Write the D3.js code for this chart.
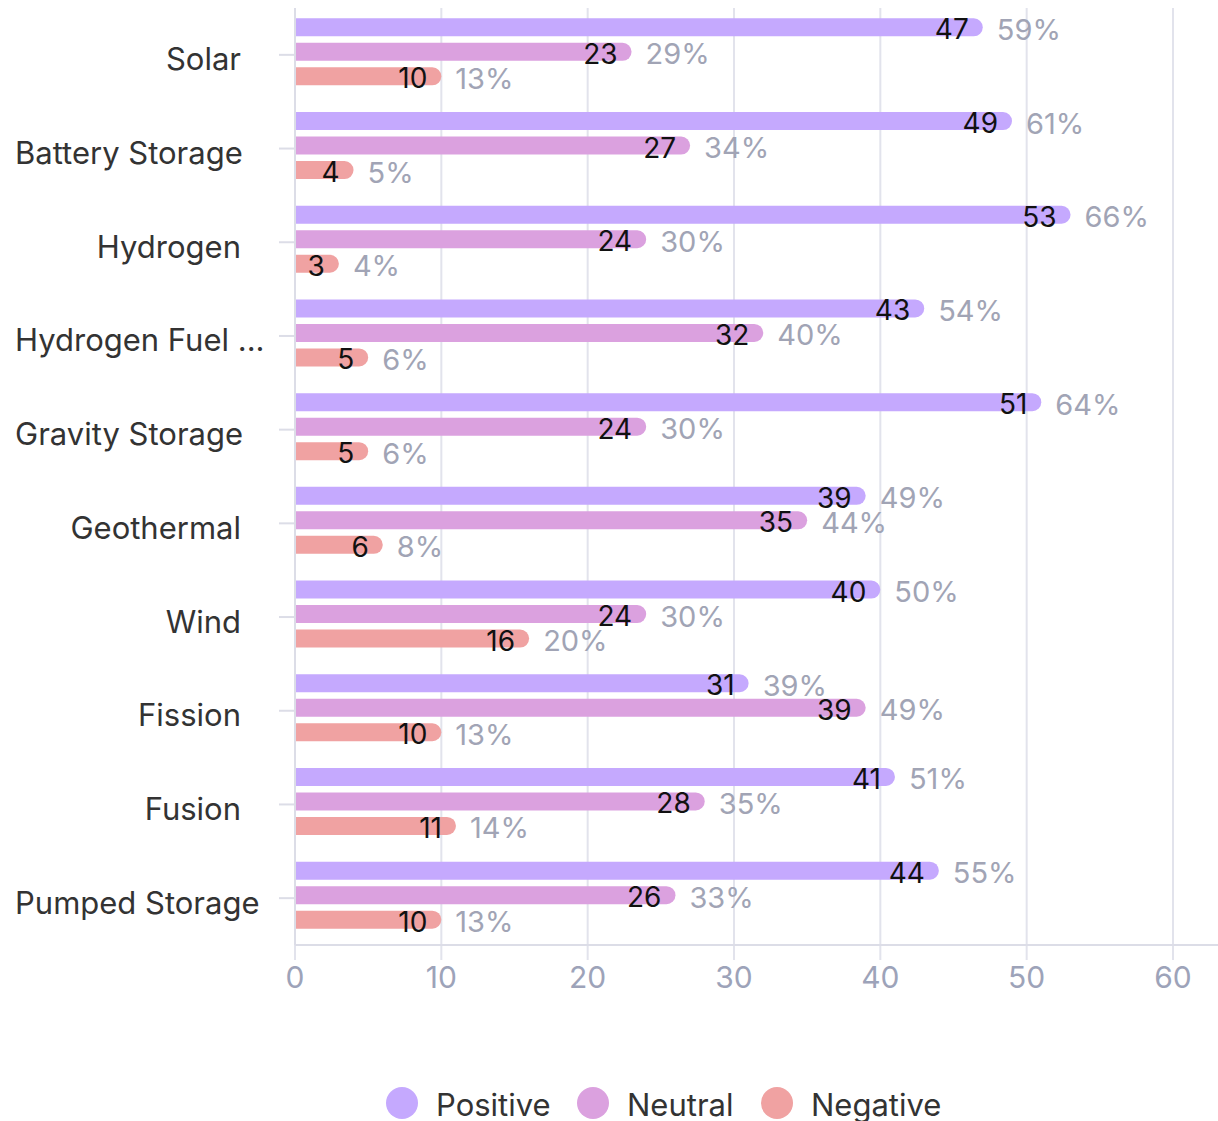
<!DOCTYPE html>
<html lang="en">
<head>
    <meta charset="UTF-8" />
    <title>Sentiment by technology</title>
    <script src="https://d3js.org/d3.v7.js"></script>
    <style>
        body { margin: 0; background: #fff; }
        text { font-family: Inter, Roboto, "Liberation Sans", sans-serif; }
    </style>
</head>
<body>
    <script>
        var w = 1218;
        var h = 1121;

        // categories, top to bottom
        var categories = ["Solar", "Battery Storage", "Hydrogen", "Hydrogen Fuel ...", "Gravity Storage",
            "Geothermal", "Wind", "Fission", "Fusion", "Pumped Storage"];
        var series = ["Positive", "Neutral", "Negative"];
        var colors = ["#c5a9fe", "#dba1df", "#f0a2a2"];

        var positive = [47, 49, 53, 43, 51, 39, 40, 31, 41, 44];
        var neutral = [23, 27, 24, 32, 24, 35, 24, 39, 28, 26];
        var negative = [10, 4, 3, 5, 5, 6, 16, 10, 11, 10];

        var positivePct = ["59%", "61%", "66%", "54%", "64%", "49%", "50%", "39%", "51%", "55%"];
        var neutralPct = ["29%", "34%", "30%", "40%", "30%", "44%", "30%", "49%", "35%", "33%"];
        var negativePct = ["13%", "5%", "4%", "6%", "6%", "8%", "20%", "13%", "14%", "13%"];

        var xTicks = [0, 10, 20, 30, 40, 50, 60];

        var values = [positive, neutral, negative];
        var pcts = [positivePct, neutralPct, negativePct];

        var xScale = d3.scaleLinear().domain([0, 60]).range([295, 1173]);
        var yScale = d3.scaleBand().domain(categories).range([8, 945]);
        var yInner = d3.scaleBand().domain(series).range([-36.5, 30.5]).paddingInner(0.265);

        var svg = d3.select("body").append("svg")
            .attr("width", w)
            .attr("height", h);

        // vertical grid
        svg.selectAll(".grid")
            .data(xTicks)
            .enter()
            .append("line")
            .attr("x1", function (d) { return xScale(d); })
            .attr("x2", function (d) { return xScale(d); })
            .attr("y1", 8)
            .attr("y2", 960)
            .attr("stroke", "#e2e3ec")
            .attr("stroke-width", 2);

        // x axis baseline
        svg.append("line")
            .attr("x1", 295).attr("x2", 1218)
            .attr("y1", 945).attr("y2", 945)
            .attr("stroke", "#dcdde7")
            .attr("stroke-width", 2);

        svg.selectAll(".xlab")
            .data(xTicks)
            .enter()
            .append("text")
            .attr("x", function (d) { return xScale(d); })
            .attr("y", 988)
            .attr("text-anchor", "middle")
            .attr("font-size", 30)
            .attr("fill", "#9da3b9")
            .text(function (d) { return d; });

        // category ticks + labels
        var cat = svg.selectAll(".cat")
            .data(categories)
            .enter()
            .append("g")
            .attr("transform", function (d) {
                return "translate(0," + (yScale(d) + yScale.bandwidth() / 2) + ")";
            });

        cat.append("line")
            .attr("x1", 279).attr("x2", 295)
            .attr("y1", 0).attr("y2", 0)
            .attr("stroke", "#dcdde7")
            .attr("stroke-width", 2);

        cat.append("text")
            .attr("y", 4)
            .attr("dominant-baseline", "central")
            .attr("font-size", 31)
            .attr("fill", "#333")
            .text(function (d) { return d; })
            .attr("x", function () {
                var len = this.getComputedTextLength();
                return Math.max(15, 241 - len);
            });

        // y axis line
        svg.append("line")
            .attr("x1", 295).attr("x2", 295)
            .attr("y1", 8).attr("y2", 945)
            .attr("stroke", "#dcdde7")
            .attr("stroke-width", 2);

        // bars
        var bh = yInner.bandwidth();
        series.forEach(function (s, si) {
            var rows = categories.map(function (c, i) {
                return { cat: c, v: values[si][i], p: pcts[si][i] };
            });
            var yc = function (d) {
                return yScale(d.cat) + yScale.bandwidth() / 2 + yInner(s) + bh / 2;
            };

            svg.selectAll(".bar" + si)
                .data(rows)
                .enter()
                .append("path")
                .attr("fill", colors[si])
                .attr("d", function (d) {
                    var x0 = xScale(0) + 1, x1 = xScale(d.v), y0 = yc(d) - bh / 2, r = bh / 2;
                    return "M" + x0 + "," + y0 + "H" + (x1 - r) +
                        "A" + r + "," + r + " 0 0 1 " + (x1 - r) + "," + (y0 + bh) +
                        "H" + x0 + "Z";
                });

            svg.selectAll(".val" + si)
                .data(rows)
                .enter()
                .append("text")
                .attr("x", function (d) { return xScale(d.v) - 14; })
                .attr("y", function (d) { return yc(d) + 2; })
                .attr("text-anchor", "end")
                .attr("dominant-baseline", "central")
                .attr("font-size", 28)
                .attr("fill", "#111")
                .text(function (d) { return d.v; });

            svg.selectAll(".pct" + si)
                .data(rows)
                .enter()
                .append("text")
                .attr("x", function (d) { return xScale(d.v) + 14; })
                .attr("y", function (d) { return yc(d) + 2; })
                .attr("dominant-baseline", "central")
                .attr("font-size", 29)
                .attr("fill", "#a1a4b5")
                .text(function (d) { return d.p; });
        });

        // legend
        var legendX = [402, 593, 777];
        var lg = svg.selectAll(".legend")
            .data(series)
            .enter()
            .append("g")
            .attr("transform", function (d, i) { return "translate(" + legendX[i] + ",1103)"; });

        lg.append("circle")
            .attr("r", 16)
            .attr("fill", function (d, i) { return colors[i]; });

        lg.append("text")
            .attr("x", 34)
            .attr("y", 1)
            .attr("dominant-baseline", "central")
            .attr("font-size", 31)
            .attr("fill", "#333")
            .text(function (d) { return d; });
    </script>
</body>
</html>
